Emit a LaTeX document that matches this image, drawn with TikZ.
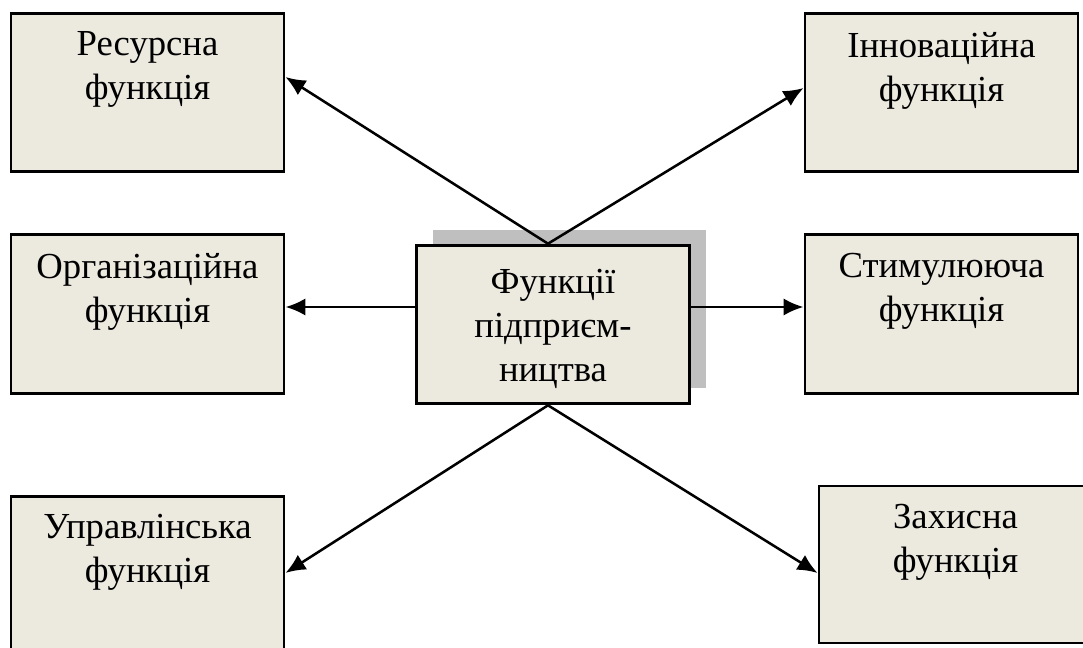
\documentclass[tikz,border=0pt]{standalone}
\usepackage{fontspec}
\setmainfont{Liberation Serif}
\usepackage{tikz}
\usetikzlibrary{calc,arrows.meta}

\definecolor{boxfill}{RGB}{236,233,223}
\definecolor{shadowgray}{RGB}{191,191,191}

\tikzset{
  fbox/.style={draw, line width=2.2pt, fill=boxfill, minimum width=204.75pt, minimum height=119pt, inner sep=0pt},
  ftext/.style={anchor=north, inner sep=0pt, align=center, font=\fontsize{27.5}{33}\selectfont},
  arr/.style={line width=1.9pt, -{Latex[length=15pt,width=13pt]}}
}

\begin{document}
\begin{tikzpicture}[x=0.75pt,y=0.75pt,yscale=-1,xscale=1]
%set diagram frame: 1083 x 648
\clip (0,0) rectangle (1083,648);

%Shape: Rectangle (shadow)
\fill [shadowgray] (433,230) rectangle (706,388);

%Shape: Rectangle [centre]
\node [fbox] (ctr) at (553,324.5) {};
%Shape: Rectangle [left column]
\node [fbox] (res) at (147.5,92.5) {};
\node [fbox] (org) at (147.5,314) {};
\node [fbox] (upr) at (147.5,575.5) {};
%Shape: Rectangle [right column]
\node [fbox] (inn) at (941.5,92.5) {};
\node [fbox] (stim) at (941.5,314) {};
\node [fbox, minimum height=117.75pt] (zah) at (955.5,564.5) {};

% Text Node
\node [ftext] (ctr-t) at ($(ctr.north)+(0,25)$) {Функції\\підприєм-\\ництва};
% Text Node
\node [ftext] (res-t) at ($(res.north)+(0,20)$) {Ресурсна\\функція};
% Text Node
\node [ftext] (org-t) at ($(org.north)+(0,20)$) {Організаційна\\функція};
% Text Node
\node [ftext] (upr-t) at ($(upr.north)+(0,19)$) {Управлінська\\функція};
% Text Node
\node [ftext] (inn-t) at ($(inn.north)+(0,20)$) {Інноваційна\\функція};
% Text Node
\node [ftext] (stim-t) at ($(stim.north)+(0,20)$) {Стимулююча\\функція};
% Text Node
\node [ftext] (zah-t) at ($(zah.north)+(0,19)$) {Захисна\\функція};

%Straight Lines [arrows]
\draw [arr] ($(ctr.north)+(-5,0)$) -- ($(res.east)+(0,-15.5)$);
\draw [arr] ($(ctr.north)+(-5,0)$) -- ($(inn.west)+(0,-4.5)$);
\draw [arr] ($(ctr.west)+(0,-17.5)$) -- ($(org.east)+(0,-7)$);
\draw [arr] ($(ctr.east)+(0,-17.5)$) -- ($(stim.west)+(0,-7)$);
\draw [arr] ($(ctr.south)+(-5,0)$) -- ($(upr.east)+(0,-2.5)$);
\draw [arr] ($(ctr.south)+(-5,0)$) -- ($(zah.west)+(0,8.5)$);

\end{tikzpicture}
\end{document}
